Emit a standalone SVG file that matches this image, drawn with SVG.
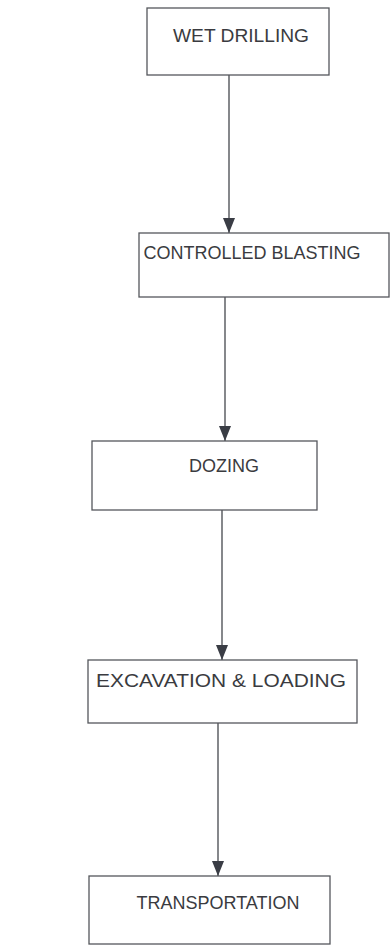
<svg xmlns="http://www.w3.org/2000/svg" width="390" height="946" viewBox="0 0 390 946">
<defs>
<marker id="arr" viewBox="0 0 15 12" refX="15" refY="6" markerWidth="15" markerHeight="12" markerUnits="userSpaceOnUse" orient="auto">
<path d="M0,0 L15,6 L0,12 Z" fill="#3a3d45"/>
</marker>
<style>
.box{fill:#ffffff;stroke:#55575c;stroke-width:1.3}
.lbl{font-family:"Liberation Sans",Arial,sans-serif;font-size:18px;fill:#3a3b40;text-anchor:middle}
.con{stroke:#45474d;stroke-width:1.3;fill:none}
</style>
</defs>
<rect width="390" height="946" fill="#ffffff"/>
<g id="connectors">
<line class="con" x1="229" y1="75" x2="229" y2="233" marker-end="url(#arr)"/>
<line class="con" x1="225" y1="297" x2="225" y2="441" marker-end="url(#arr)"/>
<line class="con" x1="222" y1="510" x2="222" y2="660" marker-end="url(#arr)"/>
<line class="con" x1="218" y1="723" x2="218" y2="876" marker-end="url(#arr)"/>
</g>
<g id="wet-drilling">
<rect class="box" x="147" y="8" width="182" height="67"/>
<text class="lbl" x="241" y="42" textLength="136" lengthAdjust="spacingAndGlyphs">WET DRILLING</text>
</g>
<g id="controlled-blasting">
<rect class="box" x="139" y="233" width="250" height="64"/>
<text class="lbl" x="252" y="259">CONTROLLED BLASTING</text>
</g>
<g id="dozing">
<rect class="box" x="92" y="441" width="225" height="69"/>
<text class="lbl" x="224" y="472">DOZING</text>
</g>
<g id="excavation-loading">
<rect class="box" x="88" y="660" width="269" height="63"/>
<text class="lbl" x="221" y="687" textLength="250" lengthAdjust="spacingAndGlyphs">EXCAVATION &amp; LOADING</text>
</g>
<g id="transportation">
<rect class="box" x="89" y="876" width="241" height="68"/>
<text class="lbl" x="218" y="909">TRANSPORTATION</text>
</g>
</svg>
